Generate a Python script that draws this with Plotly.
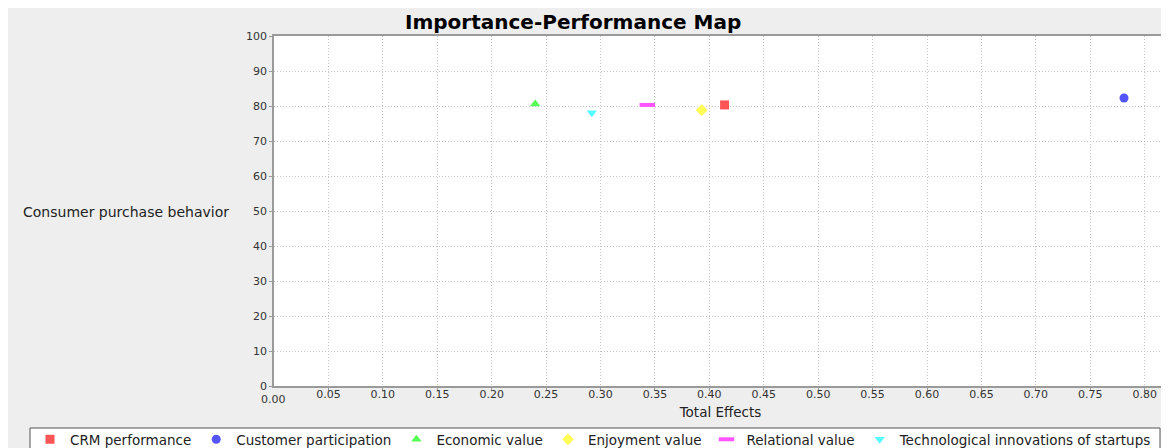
import plotly.graph_objects as go

# ---- data ----
constructs = ["CRM performance", "Customer participation", "Economic value",
              "Enjoyment value", "Relational value", "Technological innovations of startups"]
total_effects = [0.414, 0.781, 0.240, 0.393, 0.343, 0.292]
performance = [80.3, 82.3, 80.6, 78.8, 80.3, 78.1]

colors = ["#FF5555", "#5555FF", "#55FF55", "#FFFF55", "#FF55FF", "#55FFFF"]
symbols = ["square", "circle", "triangle-up", "diamond", "line-ew", "triangle-down"]

x_ticks = [round(i * 0.05, 2) for i in range(1, 17)]
y_ticks = list(range(0, 101, 10))

W, H = 1169, 448
OFF = 8  # page body margin
L, T = 266, 28
PW, PH = 893, 350
R, B = W - L - PW, H - T - PH


def px(x):
    return (x - OFF - L) / PW


def py(y):
    return (T + PH - (y - OFF)) / PH


FONT = "DejaVu Sans, Verdana, sans-serif"

fig = go.Figure()
for name, xv, yv, c, s in zip(constructs, total_effects, performance, colors, symbols):
    if s == "line-ew":
        marker = dict(symbol=s, size=11, color=c, line=dict(color=c, width=4))
    else:
        marker = dict(symbol=s, size=9, color=c, line=dict(width=0))
    fig.add_trace(go.Scatter(x=[xv], y=[yv], mode="markers", name=name, marker=marker))

axis_common = dict(
    showline=True, linecolor="#9A9A9A", linewidth=1.5, mirror=True,
    showgrid=True, gridcolor="#C4C4C4", griddash="1px,2px", gridwidth=1,
    ticks="outside", ticklen=3, tickcolor="#9A9A9A",
    tickfont=dict(family=FONT, size=11, color="#333333"),
    zeroline=False, automargin=False,
)

fig.update_xaxes(range=[0, 0.8205], tickvals=x_ticks,
                 ticktext=[f"{v:.2f}" for v in x_ticks],
                 ticklabelstandoff=-6,
                 title=dict(text="Total Effects", font=dict(family=FONT, size=13.5, color="#222222"), standoff=8),
                 **axis_common)
fig.update_yaxes(range=[0, 100], tickvals=y_ticks, ticktext=[str(v) for v in y_ticks],
                 **axis_common)

annotations = [
    dict(text="<b>Importance-Performance Map</b>", xref="paper", yref="paper",
         x=px(573), y=py(22), xanchor="center", yanchor="middle", showarrow=False,
         font=dict(family=FONT, size=20, color="#000000")),
    dict(text="Consumer purchase behavior", xref="paper", yref="paper",
         x=px(231), y=py(212), xanchor="right", yanchor="middle", showarrow=False,
         font=dict(family=FONT, size=14, color="#222222")),
    dict(text="0.00", xref="paper", yref="paper",
         x=px(273), y=py(399), xanchor="center", yanchor="middle", showarrow=False,
         font=dict(family=FONT, size=11, color="#333333")),
]

# legend frame (white box with dark border, cut by the window bottom)
shapes = [
    dict(type="rect", xref="paper", yref="paper", x0=px(30), x1=px(1160),
         y0=py(460), y1=py(428), fillcolor="white",
         line=dict(color="#555555", width=1), layer="below"),
]

fig.update_layout(
    width=W, height=H,
    margin=dict(l=L, r=R, t=T, b=B, autoexpand=False),
    paper_bgcolor="#EEEEEE", plot_bgcolor="white",
    font=dict(family=FONT, size=13, color="#222222"),
    annotations=annotations, shapes=shapes,
    showlegend=True,
    legend=dict(orientation="h", x=px(30), y=py(424), xanchor="left", yanchor="top",
                bgcolor="rgba(0,0,0,0)", borderwidth=0,
                font=dict(family=FONT, size=13.5, color="#222222"),
                itemwidth=30, tracegroupgap=0),
)

fig.write_html("out.html")
